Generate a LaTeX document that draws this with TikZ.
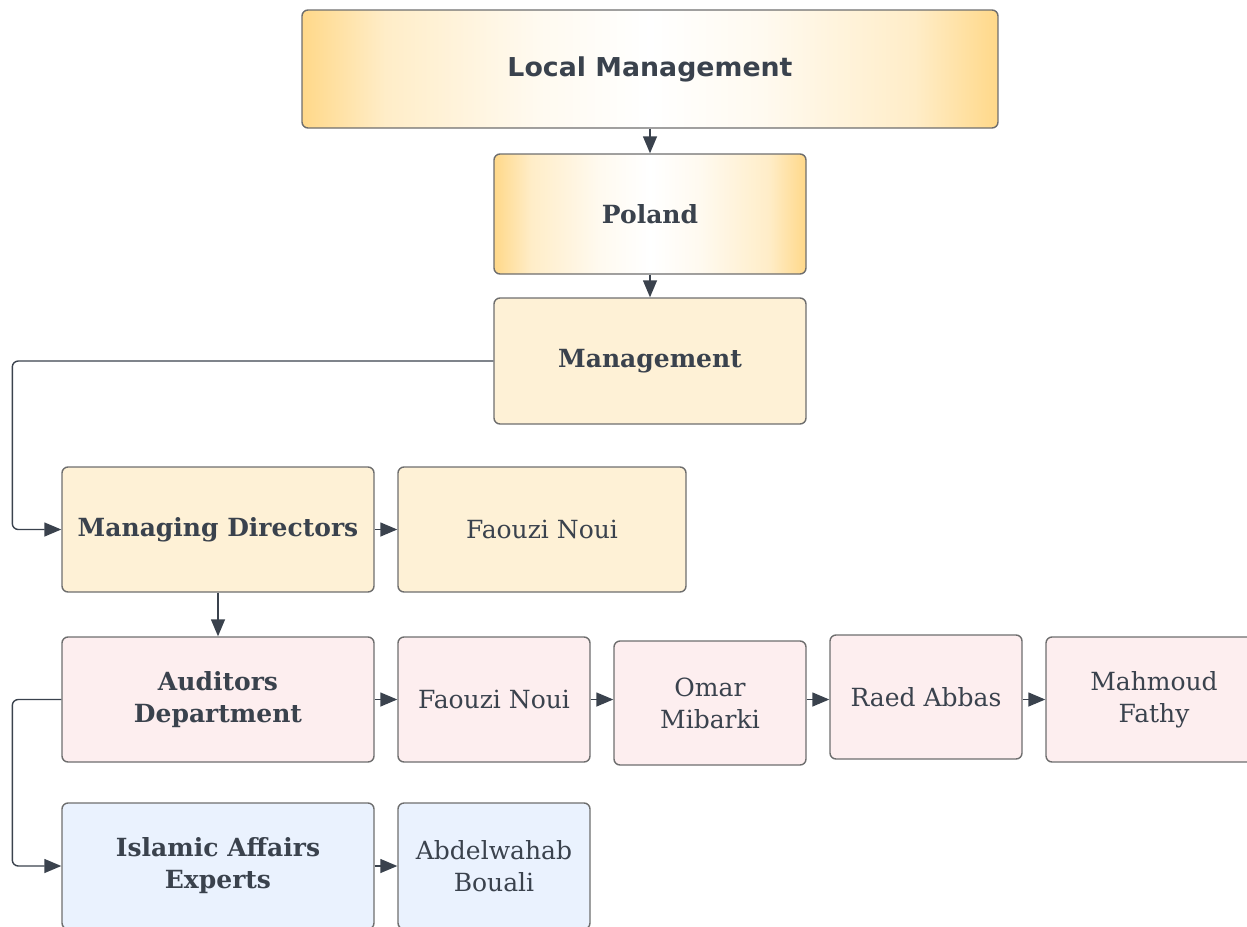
\documentclass[tikz,border=0pt]{standalone}
\usepackage{fontspec}
\usepackage{graphicx}
\setmainfont{DejaVu Serif}
\newfontfamily\techfont{DejaVu Sans}
\usetikzlibrary{arrows.meta}
\definecolor{ink}{HTML}{3A424D}
\definecolor{edgegray}{HTML}{6E6E6E}
\definecolor{gold}{HTML}{FFD889}
\definecolor{goldmid}{HTML}{FFEDC8}
\definecolor{goldin}{HTML}{FFFAF0}
\definecolor{cream}{HTML}{FEF1D6}
\definecolor{pinkish}{HTML}{FDEEEF}
\definecolor{bluish}{HTML}{EAF2FE}
\pgfdeclarehorizontalshading{goldfade}{100bp}{color(0bp)=(gold); color(25bp)=(gold); color(31bp)=(goldmid); color(42bp)=(goldin); color(50bp)=(white); color(58bp)=(goldin); color(69bp)=(goldmid); color(75bp)=(gold); color(100bp)=(gold)}
\tikzset{
  box/.style={draw=edgegray, line width=1.4pt, rounded corners=6pt, align=center,
    text=ink, inner sep=0pt, font=\fontsize{25}{32}\selectfont},
  goldbox/.style={box, shading=goldfade},
  creambox/.style={box, fill=cream},
  pinkbox/.style={box, fill=pinkish},
  bluebox/.style={box, fill=bluish},
  arr/.style={draw=ink, line width=1.4pt, -{Triangle[length=17pt,width=14pt]}},
  conn/.style={arr, rounded corners=6pt},
}
\begin{document}
\begin{tikzpicture}[x=1pt,y=-1pt]
\useasboundingbox (0,0) rectangle (1247,926);
\node[goldbox, minimum width=696pt, minimum height=118pt] (lm) at (650,69)
  {\techfont\bfseries\fontsize{26}{30}\selectfont\scalebox{1.03}[1]{Local Management}};
\node[goldbox, minimum width=312pt, minimum height=120pt] (pl) at (650,214) {\bfseries Poland};
\node[creambox, minimum width=312pt, minimum height=126pt] (mg) at (650,361) {\bfseries Management};
\node[creambox, minimum width=312pt, minimum height=125pt] (md) at (218,529.5) {\bfseries Managing Directors};
\node[creambox, minimum width=288pt, minimum height=125pt] (f1) at (542,529.5) {Faouzi Noui};
\node[pinkbox, minimum width=312pt, minimum height=125pt] (ad) at (218,699.5) {\bfseries Auditors\\\bfseries Department};
\node[pinkbox, minimum width=192pt, minimum height=125pt] (f2) at (494,699.5) {Faouzi Noui};
\node[pinkbox, minimum width=192pt, minimum height=124pt] (om) at (710,703) {Omar\\Mibarki};
\node[pinkbox, minimum width=192pt, minimum height=124pt] (ra) at (926,697) {Raed Abbas};
\node[pinkbox, minimum width=216pt, minimum height=125pt] (mf) at (1154,699.5) {Mahmoud\\Fathy};
\node[bluebox, minimum width=312pt, minimum height=126pt] (ie) at (218,866) {\bfseries Islamic Affairs\\\bfseries Experts};
\node[bluebox, minimum width=192pt, minimum height=126pt] (ab) at (494,866) {Abdelwahab\\Bouali};
\draw[arr] (lm.south) -- (pl.north);
\draw[arr] (pl.south) -- (mg.north);
\draw[conn] (mg.west) -- ++(-481,0) |- (md.west);
\draw[arr] (md.east) -- (f1.west);
\draw[arr] (md.south) -- (ad.north);
\draw[arr] (ad.east) -- (f2.west);
\draw[arr] (f2.east) -- (om.west |- f2.east);
\draw[arr] (om.east |- f2.east) -- (ra.west |- f2.east);
\draw[arr] (ra.east |- f2.east) -- (mf.west);
\draw[conn] (ad.west) -- ++(-49,0) |- (ie.west);
\draw[arr] (ie.east) -- (ab.west);
\end{tikzpicture}
\end{document}
